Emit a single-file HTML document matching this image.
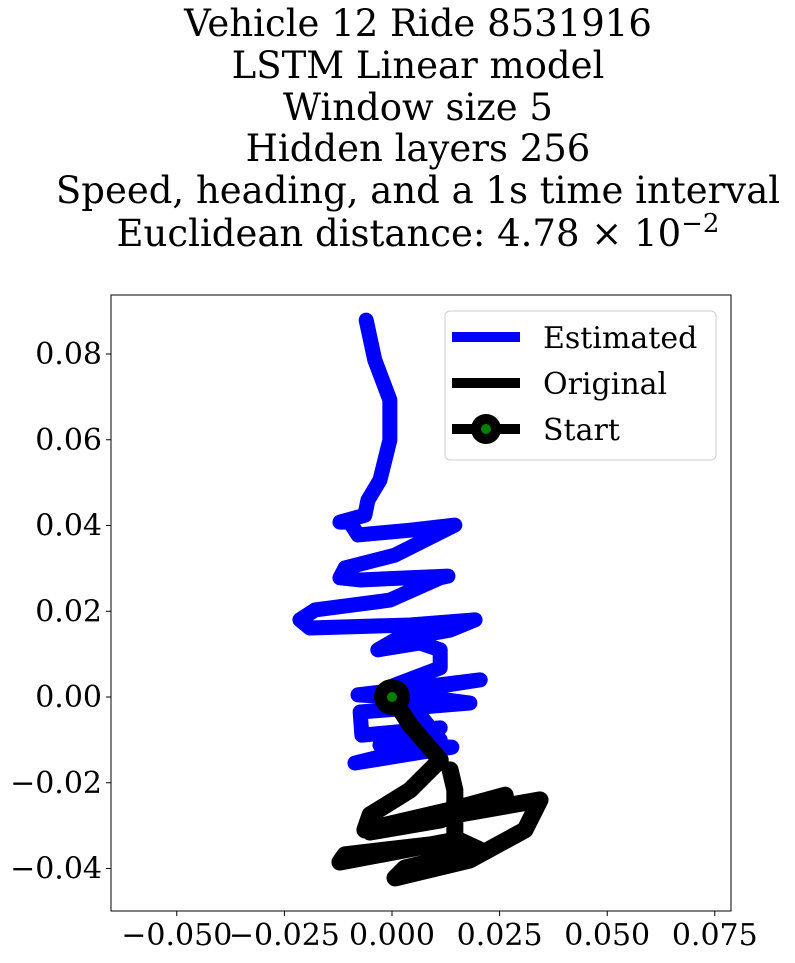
<!DOCTYPE html>
<html><head><meta charset="utf-8"><style>
body{margin:0;background:#fff;}
svg text{font-family:"DejaVu Serif","Liberation Serif",serif;fill:#000;}
</style></head><body>
<svg width="795" height="958" xmlns="http://www.w3.org/2000/svg">
<g id="title" font-size="37" text-anchor="middle">
<text x="418" y="36">Vehicle 12 Ride 8531916</text>
<text x="418" y="78">LSTM Linear model</text>
<text x="418" y="120">Window size 5</text>
<text x="418" y="161">Hidden layers 256</text>
<text x="418" y="203">Speed, heading, and a 1s time interval</text>
<text x="418" y="246">Euclidean distance: 4.78 × 10<tspan dy="-14" font-size="26">−2</tspan></text>
</g>
<g id="plot"></g>
<rect x="111" y="295" width="620" height="616" fill="none" stroke="#000" stroke-width="1"/>
<g id="axes" font-size="30"></g>
<g>
<rect x="445" y="311" width="271" height="149" rx="5" fill="#fff" fill-opacity="0.8" stroke="#ccc"/>
<line x1="452" y1="337" x2="520" y2="337" stroke="#00f" stroke-width="10"/>
<text x="543" y="348" font-size="30">Estimated</text>
<line x1="452" y1="383" x2="520" y2="383" stroke="#000" stroke-width="10"/>
<text x="543" y="394" font-size="30">Original</text>
<line x1="452" y1="429" x2="520" y2="429" stroke="#000" stroke-width="10"/>
<circle cx="486" cy="429" r="15" fill="#000"/><circle cx="486" cy="429" r="5" fill="green"/>
<text x="543" y="440" font-size="30">Start</text>
</g>
</svg>
<script>
const xTicks=[-0.05,-0.025,0,0.025,0.05,0.075];
const xTickLabels=["−0.050","−0.025","0.000","0.025","0.050","0.075"];
const yTicks=[-0.04,-0.02,0,0.02,0.04,0.06,0.08];
const yTickLabels=["−0.04","−0.02","0.00","0.02","0.04","0.06","0.08"];
const estX=[0,-0.0079,0.0205,0.0007,0.0181,-0.0074,-0.0070,0.0112,-0.0028,0.0139,-0.0086,0.0019,0.0112,0.0007,0.0112,0.0112,0.0065,-0.0033,0.0007,0.0135,0.0193,0.0042,-0.0191,-0.0214,-0.0179,-0.0005,0.0112,0.0130,-0.0074,-0.0121,-0.0109,0.0007,0.0146,0.0042,-0.0079,-0.0098,-0.0121,-0.0063,-0.0056,-0.0028,-0.0005,-0.0005,-0.0040,-0.0060];
const estY=[0,0.0005,0.0040,0.0009,-0.0014,-0.0035,-0.0089,-0.0072,-0.0112,-0.0117,-0.0154,-0.0128,-0.0100,0.0028,0.0068,0.0110,0.0126,0.0110,0.0133,0.0156,0.0180,0.0168,0.0161,0.0180,0.0203,0.0226,0.0278,0.0282,0.0273,0.0278,0.0301,0.0331,0.0401,0.0389,0.0378,0.0408,0.0408,0.0424,0.0459,0.0506,0.0599,0.0693,0.0786,0.0879];
const origX=[0,0.0042,0.0112,0.0042,-0.0051,-0.0063,0.0135,0.0263,0.0112,-0.0051,0.0146,0.0344,0.0309,0.0181,0.0007,0.0030,0.0205,0.0153,-0.0121,-0.0109,0.0088,0.0146,0.0146,0.0135];
const origY=[0,-0.0065,-0.0147,-0.0217,-0.0275,-0.0310,-0.0264,-0.0229,-0.0287,-0.0315,-0.0275,-0.0240,-0.0310,-0.0380,-0.0422,-0.0399,-0.0357,-0.0333,-0.0385,-0.0368,-0.0345,-0.0357,-0.0217,-0.0170];
const startX=[0], startY=[0];
const NS="http://www.w3.org/2000/svg";
const sx=v=>392+v*4304, sy=v=>697-v*4287.5;
const plot=document.getElementById('plot'), axes=document.getElementById('axes');
function poly(xs,ys,color,w,name){
  const p=document.createElementNS(NS,'polyline');
  p.setAttribute('points',xs.map((x,i)=>sx(x)+','+sy(ys[i])).join(' '));
  p.setAttribute('fill','none');p.setAttribute('stroke',color);p.setAttribute('stroke-width',w);
  p.setAttribute('stroke-linejoin','round');p.setAttribute('stroke-linecap','round');
  
  
  plot.appendChild(p);
}
poly(estX,estY,'#00f',15,'estimated-line');
poly(origX,origY,'#000',17,'original-line');
startX.forEach((x,i)=>{
  const c=document.createElementNS(NS,'circle');
  c.setAttribute('cx',sx(x));c.setAttribute('cy',sy(startY[i]));c.setAttribute('r',18);c.setAttribute('fill','#000');
  
  
  plot.appendChild(c);
  const g=document.createElementNS(NS,'circle');
  g.setAttribute('cx',sx(x));g.setAttribute('cy',sy(startY[i]));g.setAttribute('r',5);g.setAttribute('fill','green');
  
  
  plot.appendChild(g);
});
xTicks.forEach((v,i)=>{
  const l=document.createElementNS(NS,'line');
  l.setAttribute('x1',sx(v));l.setAttribute('x2',sx(v));l.setAttribute('y1',911);l.setAttribute('y2',916);l.setAttribute('stroke','#000');
  
  
  axes.appendChild(l);
  const t=document.createElementNS(NS,'text');
  t.setAttribute('x',sx(v));t.setAttribute('y',945);t.setAttribute('text-anchor','middle');t.textContent=xTickLabels[i];
  
  
  axes.appendChild(t);
});
yTicks.forEach((v,i)=>{
  const l=document.createElementNS(NS,'line');
  l.setAttribute('x1',106);l.setAttribute('x2',111);l.setAttribute('y1',sy(v));l.setAttribute('y2',sy(v));l.setAttribute('stroke','#000');
  
  
  axes.appendChild(l);
  const t=document.createElementNS(NS,'text');
  t.setAttribute('x',102);t.setAttribute('y',sy(v)+10);t.setAttribute('text-anchor','end');t.textContent=yTickLabels[i];
  
  
  axes.appendChild(t);
});
</script>
</body></html>
